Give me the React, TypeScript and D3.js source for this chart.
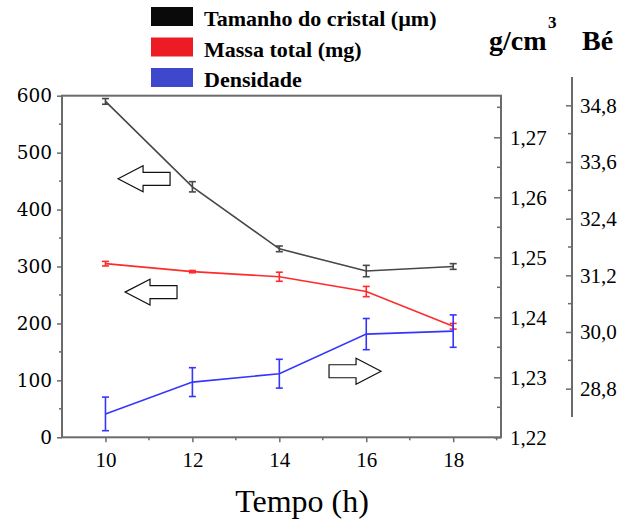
import React, { useEffect, useRef } from 'react';
import * as d3 from 'd3';

// values
const hours = [10, 12, 14, 16, 18];
const crystalSize = [590, 440, 331, 292, 300];
const crystalErr = [5, 9, 5, 10, 5];
const totalMass = [305, 291, 282, 256, 195];
const massErr = [4, 2, 8, 9, 5];
const density = [1.2239, 1.2292, 1.2306, 1.2372, 1.2377];
const densityErr = [0.0028, 0.0024, 0.0024, 0.0026, 0.0027];

const leftTicks = [0, 100, 200, 300, 400, 500, 600];
const densityTicks = [1.22, 1.23, 1.24, 1.25, 1.26, 1.27];
const beTicks = [28.8, 30.0, 31.2, 32.4, 33.6, 34.8];
const hourTicks = [10, 12, 14, 16, 18];

const legendItems = [
  { label: 'Tamanho do cristal (µm)', color: '#0a0a0a' },
  { label: 'Massa total (mg)', color: '#ed1c24' },
  { label: 'Densidade', color: '#3f48cc' },
];

// arrows: tip position in data coords (hours, left-axis units) and direction
const arrows = [
  { x: 10.29, y: 454, dir: -1 },
  { x: 10.45, y: 255, dir: -1 },
  { x: 16.34, y: 116, dir: 1 },
];

const SERIF = "'Liberation Serif', 'Times New Roman', Times, serif";

function App() {
  const svgRef = useRef<SVGSVGElement>(null);

  useEffect(() => {
    const width = 643, height = 524;
    const frame = { left: 62, right: 501, top: 95.7, bottom: 437.3 };
    const axisColor = '#6b6b6b';

    const svg = d3.select(svgRef.current);
    svg.selectAll('*').remove();
    svg.attr('width', width).attr('height', height);

    const x = d3.scaleLinear().domain([9, 19.1]).range([frame.left, frame.right]);
    const yLeft = d3.scaleLinear().domain([0, 600]).range([frame.bottom, frame.top]);
    const yDens = d3.scaleLinear()
      .domain([1.22, 1.22 + (frame.bottom - frame.top) / 6000])
      .range([frame.bottom, frame.top]);
    const yBe = d3.scaleLinear().domain([28.2, 35.4]).range([417, 77]);

    const comma = (f: string) => (d: any) => d3.format(f)(d).replace('.', ',');

    const styleAxis = (g: any, font: string, size: number) => {
      g.attr('font-family', null).attr('font-size', null);
      g.select('.domain').remove();
      g.selectAll('line').attr('stroke', axisColor).attr('stroke-width', 1.5);
      g.selectAll('text').style('font-family', font).style('font-size', size + 'px').attr('fill', '#000');
    };

    // minor ticks
    const minorG = svg.append('g').attr('stroke', axisColor).attr('stroke-width', 1.5);
    d3.range(50, 600, 100).forEach(v =>
      minorG.append('line').attr('x1', frame.left - 3).attr('x2', frame.left).attr('y1', yLeft(v)).attr('y2', yLeft(v)));
    [11, 13, 15, 17, 19].forEach(v =>
      minorG.append('line').attr('x1', x(v)).attr('x2', x(v)).attr('y1', frame.bottom).attr('y2', frame.bottom + 3));
    d3.range(1.225, 1.28, 0.01).forEach(v =>
      minorG.append('line').attr('x1', frame.right - 4).attr('x2', frame.right).attr('y1', yDens(v)).attr('y2', yDens(v)));
    [29.4, 30.6, 31.8, 33.0, 34.2].forEach(v =>
      minorG.append('line').attr('x1', 568).attr('x2', 572).attr('y1', yBe(v)).attr('y2', yBe(v)));

    // left axis
    svg.append('g')
      .attr('transform', `translate(${frame.left},0)`)
      .call(d3.axisLeft(yLeft).tickValues(leftTicks).tickSize(5).tickPadding(5))
      .call((g: any) => styleAxis(g, "'DejaVu Serif', serif", 18.5));

    // bottom axis
    svg.append('g')
      .attr('transform', `translate(0,${frame.bottom})`)
      .call(d3.axisBottom(x).tickValues(hourTicks).tickSize(5).tickPadding(10))
      .call((g: any) => styleAxis(g, SERIF, 21));

    // density axis (ticks inward)
    svg.append('g')
      .attr('transform', `translate(${frame.right},0)`)
      .call(d3.axisRight(yDens).tickValues(densityTicks).tickSize(-7).tickPadding(9).tickFormat(comma('.2f')))
      .call((g: any) => styleAxis(g, SERIF, 21));

    // Bé axis
    const beG = svg.append('g')
      .attr('transform', 'translate(572,0)')
      .call(d3.axisRight(yBe).tickValues(beTicks).tickSize(-6).tickPadding(8).tickFormat(comma('.1f')))
      .call((g: any) => styleAxis(g, SERIF, 21));
    beG.append('line').attr('x1', 0).attr('x2', 0).attr('y1', yBe(35.4)).attr('y2', yBe(28.2))
      .attr('stroke', axisColor).attr('stroke-width', 2);

    // frame
    svg.append('rect')
      .attr('x', frame.left).attr('y', frame.top)
      .attr('width', frame.right - frame.left).attr('height', frame.bottom - frame.top)
      .attr('fill', 'none').attr('stroke', axisColor).attr('stroke-width', 2);

    // series
    const series = [
      { vals: crystalSize, errs: crystalErr, y: yLeft, color: '#474747' },
      { vals: totalMass, errs: massErr, y: yLeft, color: '#ff2b2b' },
      { vals: density, errs: densityErr, y: yDens, color: '#3535ff' },
    ];
    series.forEach(s => {
      const line = d3.line<number>().x((_, i) => x(hours[i])).y(d => s.y(d));
      svg.append('path').datum(s.vals).attr('d', line)
        .attr('fill', 'none').attr('stroke', s.color).attr('stroke-width', 1.6);
      const eb = svg.append('g').attr('stroke', s.color).attr('stroke-width', 1.6);
      s.vals.forEach((v, i) => {
        const cx = x(hours[i]);
        const y1 = s.y(v - s.errs[i]), y2 = s.y(v + s.errs[i]);
        eb.append('line').attr('x1', cx).attr('x2', cx).attr('y1', y1).attr('y2', y2);
        eb.append('line').attr('x1', cx - 3.5).attr('x2', cx + 3.5).attr('y1', y1).attr('y2', y1);
        eb.append('line').attr('x1', cx - 3.5).attr('x2', cx + 3.5).attr('y1', y2).attr('y2', y2);
      });
    });

    // hollow arrows
    arrows.forEach(a => {
      const tx = x(a.x), ty = yLeft(a.y), d = a.dir;
      const pts: [number, number][] = [
        [tx, ty],
        [tx - d * 25, ty - 13],
        [tx - d * 25, ty - 6.5],
        [tx - d * 52, ty - 6.5],
        [tx - d * 52, ty + 6.5],
        [tx - d * 25, ty + 6.5],
        [tx - d * 25, ty + 13],
      ];
      svg.append('polygon').attr('points', pts.map(p => p.join(',')).join(' '))
        .attr('fill', '#fff').attr('stroke', '#111').attr('stroke-width', 1.2);
    });

    // x axis title
    svg.append('text')
      .attr('x', 302).attr('y', 512).attr('text-anchor', 'middle')
      .style('font-family', SERIF).style('font-size', '32px')
      .text('Tempo (h)');

    // unit labels
    svg.append('text').attr('x', 489).attr('y', 50)
      .style('font-family', SERIF).style('font-size', '28px').style('font-weight', 'bold').text('g/cm');
    svg.append('text').attr('x', 548).attr('y', 28)
      .style('font-family', SERIF).style('font-size', '17px').style('font-weight', 'bold').text('3');
    svg.append('text').attr('x', 582).attr('y', 50)
      .style('font-family', SERIF).style('font-size', '28px').style('font-weight', 'bold').text('Bé');

    // legend
    const legend = svg.append('g');
    legendItems.forEach((it, i) => {
      const ly = 7 + i * 30.5;
      legend.append('rect').attr('x', 151).attr('y', ly).attr('width', 42).attr('height', 19).attr('fill', it.color);
      legend.append('text').attr('x', 204).attr('y', ly + 19)
        .style('font-family', SERIF).style('font-size', '22px').style('font-weight', 'bold')
        .text(it.label);
    });
  }, []);

  return (
    <svg ref={svgRef} style={{ position: 'absolute', left: 0, top: 0, background: '#fff' }}></svg>
  );
}

export default App;
